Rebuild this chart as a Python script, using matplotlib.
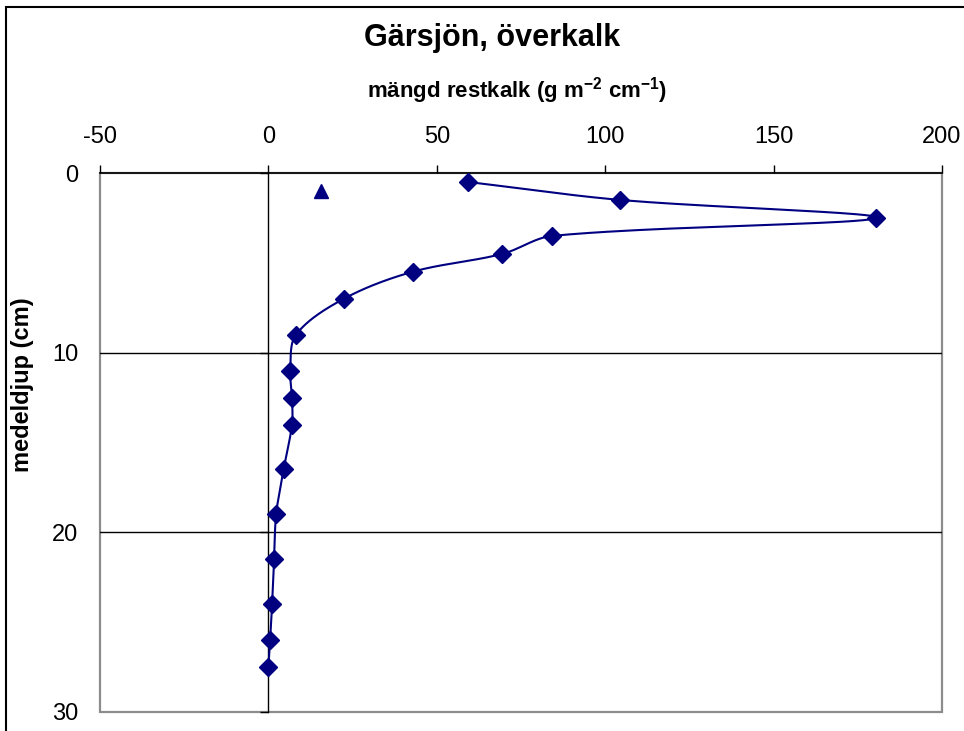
import matplotlib.pyplot as plt
import matplotlib.patches as mpatches
import numpy as np

plt.rcParams['font.family'] = ['Liberation Sans', 'DejaVu Sans']
plt.rcParams['axes.unicode_minus'] = False

# mängd restkalk (g m-2 cm-1) vs medeldjup (cm)
restkalk = [59.3, 104.5, 180.5, 84.3, 69.5, 42.8, 22.4, 8.2, 6.5, 7.0, 7.0, 4.5, 2.3, 1.7, 1.1, 0.5, 0.0]
djup = [0.5, 1.5, 2.5, 3.5, 4.5, 5.5, 7.0, 9.0, 11.0, 12.5, 14.0, 16.5, 19.0, 21.5, 24.0, 26.0, 27.5]

# separate single point (triangle)
tri_x = [15.5]
tri_y = [1.0]

xticks = [-50, 0, 50, 100, 150, 200]
yticks = [0, 10, 20, 30]

navy = '#000080'

fig = plt.figure(figsize=(9.64, 7.31), dpi=100)
ax = fig.add_axes([100 / 964, 1 - 712 / 731, 842 / 964, 539 / 731])

ax.set_xlim(-50, 200)
ax.set_ylim(30, 0)
ax.set_xticks(xticks)
ax.set_yticks(yticks)

# plot area border (grey) via the axes patch
ax.patch.set_edgecolor('#8c8c8c')
ax.patch.set_linewidth(1.6)

ax.spines['left'].set_visible(False)
ax.spines['bottom'].set_visible(False)
ax.spines['top'].set_color('black')
ax.spines['top'].set_linewidth(1.2)
ax.spines['right'].set_position(('data', 0))
ax.spines['right'].set_color('black')
ax.spines['right'].set_linewidth(1.0)

ax.xaxis.tick_top()
ax.tick_params(axis='x', direction='out', length=6, width=1, labelsize=17, pad=12)
ax.tick_params(axis='y', left=False, labelleft=True, right=True, labelright=False,
               direction='in', length=6, width=1, labelsize=17, pad=15.8)

for yv in yticks[1:-1]:
    ax.axhline(yv, color='black', lw=1.0, zorder=1)


def ctrl(a, b, c, d):
    # Excel-like bezier control points, scaled by segment lengths
    l1 = np.hypot(*(b - a))
    l2 = np.hypot(*(c - b))
    l3 = np.hypot(*(d - c))
    c1 = b + (c - a) * (l2 / (l1 + l2) if l1 + l2 > 0 else 0) / 3
    c2 = c - (d - b) * (l2 / (l2 + l3) if l2 + l3 > 0 else 0) / 3
    return c1, c2


fig.canvas.draw()
pts = ax.transData.transform(np.column_stack([restkalk, djup]))
P = np.vstack([pts[0], pts, pts[-1]])
curve = []
t = np.linspace(0, 1, 40)[:, None]
for i in range(1, len(P) - 2):
    p0, p1, p2, p3 = P[i - 1], P[i], P[i + 1], P[i + 2]
    c1, c2 = ctrl(p0, p1, p2, p3)
    seg = ((1 - t) ** 3) * p1 + 3 * ((1 - t) ** 2) * t * c1 + 3 * (1 - t) * t ** 2 * c2 + t ** 3 * p2
    curve.append(seg)
curve = ax.transData.inverted().transform(np.vstack(curve))
ax.plot(curve[:, 0], curve[:, 1], color=navy, lw=1.5, zorder=3)
ax.plot(restkalk, djup, ls='none', marker='D', ms=9, color=navy, zorder=4)
ax.plot(tri_x, tri_y, ls='none', marker='^', ms=10, color=navy, zorder=4)

ax.xaxis.set_label_position('top')
ax.set_xlabel('mängd restkalk (g m$^{\\mathregular{-2}}$ cm$^{\\mathregular{-1}}$)',
              fontsize=16, fontweight='bold', va='baseline')
ax.xaxis.set_label_coords(0.495, 1 + (173 - 98) / 539)
ax.set_ylabel('medeldjup (cm)', fontsize=17, fontweight='bold', va='center')
ax.yaxis.set_label_coords((23 - 100) / 842, 1 - (385 - 173) / 539)

fig.text(492 / 964, 1 - 46 / 731, 'Gärsjön, överkalk', fontsize=22, fontweight='bold',
         ha='center', va='baseline')

# outer chart border (extends past right and bottom edges)
fig.patches.append(mpatches.Rectangle((6 / 964, -0.1), 2, 1.1 - 7 / 731, transform=fig.transFigure,
                                      fill=False, edgecolor='black', lw=1.5))

fig.savefig('out.png', dpi=100)
